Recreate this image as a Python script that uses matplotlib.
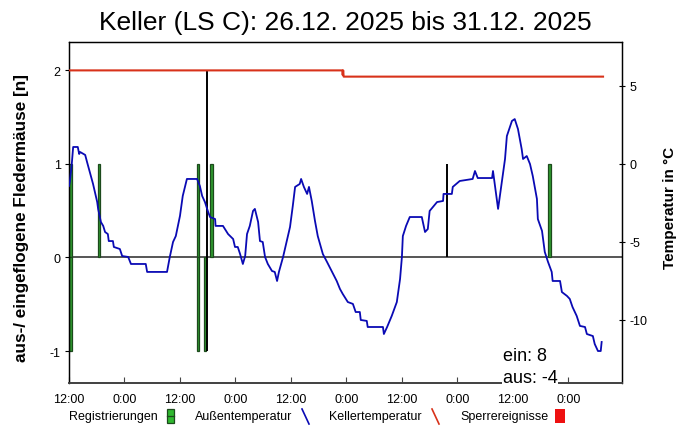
import matplotlib
matplotlib.use('Agg')
import matplotlib.pyplot as plt
from matplotlib.lines import Line2D
from matplotlib.patches import Rectangle

plt.rcParams['font.family'] = ['Liberation Sans', 'DejaVu Sans']

# hours since 26.12.2025 12:00
tick_hours = [0, 12, 24, 36, 48, 60, 72, 84, 96, 108]
tick_labels = ['12:00', '0:00', '12:00', '0:00', '12:00', '0:00', '12:00', '0:00', '12:00', '0:00']

# Registrierungen (green bars): + = ein, - = aus
reg_hours = [0.4, 0.4, 6.5, 27.9, 27.9, 29.4, 30.9, 104.0]
reg_counts = [1, -1, 1, 1, -1, -1, 1, 1]

# black marks
mark_hours = [29.9, 29.9, 81.7]
mark_counts = [2, -1, 1]

# Außentemperatur
out_hours = [0.0, 0.2, 0.6, 0.9, 1.9, 2.2, 2.4, 3.5, 3.9, 4.5, 5.2, 6.1, 6.3, 6.9, 7.4,
             7.8, 8.4, 8.6, 9.5, 9.7, 11.0, 11.5, 12.8, 13.4, 16.6, 16.9, 21.2, 21.8, 22.5,
             23.1, 24.0, 24.6, 25.5, 27.7, 28.3, 28.8, 29.4, 30.1, 30.5, 31.6, 31.7, 33.3,
             34.4, 35.5, 35.9, 36.5, 37.0, 37.6, 38.1, 38.5, 39.1, 39.8, 40.2, 40.9, 41.3,
             41.9, 42.4, 43.0, 43.9, 44.5, 45.0, 45.4, 46.3, 47.1, 47.8, 48.4, 48.9, 49.9,
             50.2, 50.8, 51.5, 51.9, 52.5, 53.2, 53.8, 54.9, 55.8, 56.9, 57.9, 58.6, 59.2,
             60.3, 61.4, 62.0, 62.9, 63.1, 64.4, 64.6, 67.9, 68.1, 68.8, 69.8, 70.9, 71.6,
             72.0, 72.2, 72.9, 73.7, 76.3, 77.0, 77.6, 78.0, 79.6, 80.9, 81.0, 82.8, 83.0,
             84.5, 87.3, 87.8, 88.4, 91.5, 91.7, 92.3, 92.8, 93.6, 94.3, 94.7, 95.8, 96.4,
             97.1, 97.9, 98.2, 99.0, 99.7, 100.3, 101.2, 101.4, 102.3, 102.9, 103.6, 104.4,
             104.6, 106.2, 106.6, 107.7, 108.3, 108.9, 109.8, 110.5, 111.6, 112.0, 113.3,
             113.7, 114.4, 115.0, 115.2]
out_temp = [-1.41, -1.09, 0.0, 1.09, 1.09, 0.64, 0.77, 0.58, 0.13, -0.51, -1.28, -2.44, -2.88,
            -3.72, -3.97, -4.36, -4.49, -4.94, -4.94, -5.32, -5.45, -5.90, -5.96, -6.41, -6.41,
            -6.92, -6.92, -5.96, -5.0, -4.62, -3.33, -2.05, -0.96, -0.96, -1.41, -2.05, -2.44,
            -3.08, -3.40, -3.53, -3.97, -3.97, -4.49, -4.81, -5.32, -5.32, -5.77, -6.41, -5.90,
            -4.49, -3.97, -3.01, -2.88, -3.72, -4.94, -5.0, -5.96, -6.41, -6.86, -6.92, -7.50,
            -6.92, -5.96, -4.94, -4.04, -2.69, -1.47, -1.28, -0.96, -1.47, -1.92, -1.47, -2.37,
            -3.65, -4.62, -5.77, -6.28, -6.92, -7.50, -8.01, -8.33, -8.85, -8.97, -9.49, -9.49,
            -10.0, -10.06, -10.45, -10.45, -10.90, -10.45, -9.74, -8.85, -7.37, -5.96, -4.62,
            -3.97, -3.40, -3.40, -4.36, -4.17, -3.01, -2.44, -2.37, -1.92, -1.92, -1.47, -1.09,
            -0.96, -0.45, -0.90, -0.90, -0.45, -1.79, -2.88, -1.15, 0.32, 1.79, 2.76, 2.88,
            2.24, 0.96, 0.32, 0.51, 0.0, -0.77, -2.24, -3.53, -4.29, -5.64, -6.28, -6.92, -7.50,
            -7.50, -8.21, -8.46, -8.65, -9.17, -9.74, -10.38, -10.45, -10.90, -11.03, -11.54,
            -11.99, -11.99, -11.41]

# Kellertemperatur
cel_hours = [0.0, 59.1, 59.2, 59.3, 59.4, 115.5]
cel_temp = [6.0, 6.0, 5.7, 6.0, 5.6, 5.6]

ein_total = 8
aus_total = -4

W, H = 690, 431
fig = plt.figure(figsize=(W / 100, H / 100), dpi=100)
ax = fig.add_axes([69 / W, 1 - 384 / H, 553 / W, 341 / H])
ax2 = ax.twinx()

ax.axhline(0, color='#555555', lw=1.4, zorder=1)
ax.bar(reg_hours, reg_counts, width=0.6, color='#2f9a2f', edgecolor='#1c4a1c',
       linewidth=0.9, zorder=2)
for h, c in zip(mark_hours, mark_counts):
    ax.vlines(h, 0, c, color='black', lw=1.4, zorder=3)

ax.set_xlim(0, 119.6)
ax.set_ylim(-1.34, 2.30)
ax.set_yticks([-1, 0, 1, 2])
ax.set_yticklabels(['-1', '0', '1', '2'])
ax.set_xticks(tick_hours)
ax.set_xticklabels(tick_labels)
ax.tick_params(axis='x', direction='in', length=4, pad=7, labelsize=9, color='#444444')
ax.tick_params(axis='y', direction='out', length=3, pad=3, labelsize=9)

ax2.plot(out_hours, out_temp, color='#0a0ab4', lw=1.3, zorder=4)
ax2.plot(cel_hours, cel_temp, color='#d8321a', lw=1.5, zorder=4)
ax2.set_ylim(-14.04, 7.82)
ax2.set_yticks([-10, -5, 0, 5])
ax2.set_yticklabels(['-10', '-5', '0', '5'])
ax2.tick_params(axis='y', direction='inout', length=5, pad=3, labelsize=9)

for a in (ax, ax2):
    for s in ('top', 'left', 'right'):
        a.spines[s].set_linewidth(0.9)
    a.spines['bottom'].set_color('#444444')
    a.spines['bottom'].set_linewidth(1.3)

fig.text(503 / W, 1 - 357 / H, f'ein: {ein_total}', fontsize=13, ha='left', va='center',
         zorder=10)
fig.text(503 / W, 1 - 379 / H, f'aus: {aus_total}', fontsize=13, ha='left', va='center',
         zorder=10, bbox=dict(facecolor='white', edgecolor='none', pad=0.5))

fig.text(0.5, 1 - 23 / H, 'Keller (LS C): 26.12. 2025 bis 31.12. 2025', fontsize=19,
         ha='center', va='center')
fig.text(22 / W, 1 - 218 / H, 'aus-/ eingeflogene Fledermäuse [n]', rotation=90,
         fontsize=12.3, fontweight='bold', ha='center', va='center')
fig.text(670 / W, 1 - 208 / H, 'Temperatur in °C', rotation=90,
         fontsize=11, fontweight='bold', ha='center', va='center')

# legend row
ly = 1 - 417 / H
fig.text(69 / W, ly, 'Registrierungen', fontsize=9, ha='left', va='center')
fig.add_artist(Rectangle((167 / W, 1 - 424 / H), 7 / W, 14 / H, transform=fig.transFigure,
                         facecolor='#2fb82f', edgecolor='#1c4a1c', lw=0.9))
fig.add_artist(Line2D([167 / W, 174 / W], [ly, ly], transform=fig.transFigure,
                      color='#1c4a1c', lw=0.9))
fig.text(195 / W, ly, 'Außentemperatur', fontsize=9, ha='left', va='center')
fig.add_artist(Line2D([302 / W, 309 / W], [1 - 410 / H, 1 - 425 / H],
                      transform=fig.transFigure, color='#0a0ab4', lw=1.2))
fig.text(329 / W, ly, 'Kellertemperatur', fontsize=9, ha='left', va='center')
fig.add_artist(Line2D([432 / W, 439 / W], [1 - 410 / H, 1 - 425 / H],
                      transform=fig.transFigure, color='#d8321a', lw=1.2))
fig.text(460 / W, ly, 'Sperrereignisse', fontsize=9, ha='left', va='center')
fig.add_artist(Rectangle((555 / W, 1 - 424 / H), 10 / W, 14 / H, transform=fig.transFigure,
                         facecolor='#ee1111', edgecolor='none'))

fig.savefig('out.png', dpi=100)
